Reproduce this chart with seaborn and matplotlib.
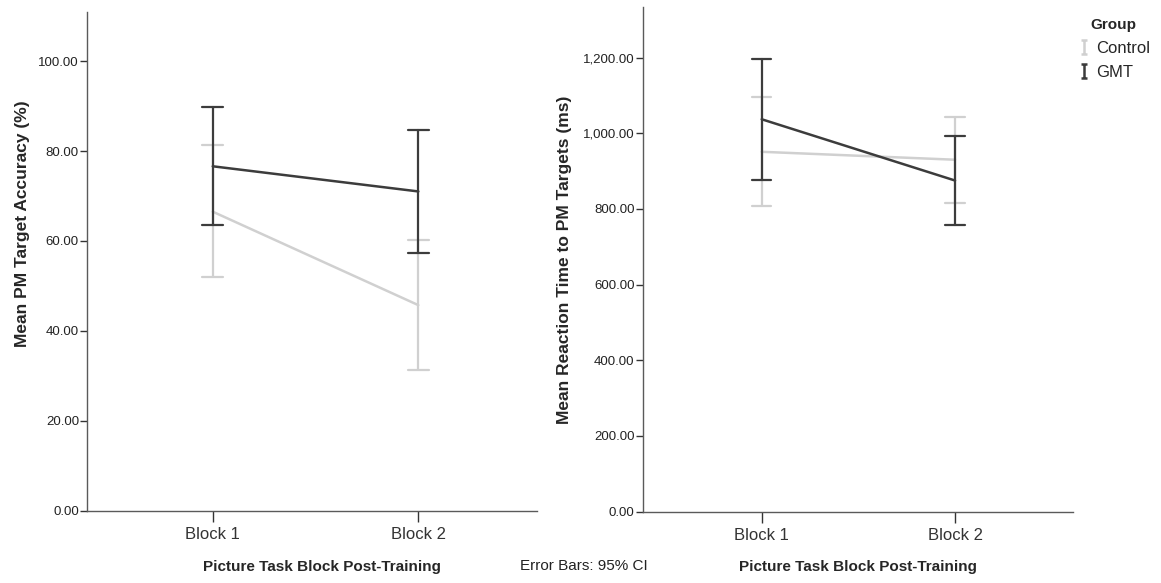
import numpy as np
import pandas as pd
import matplotlib
matplotlib.use("Agg")
import matplotlib.pyplot as plt
from matplotlib.path import Path
from matplotlib.lines import Line2D
from matplotlib.ticker import FuncFormatter
import seaborn as sns

# ---------------- data ----------------
blocks = ["Block 1", "Block 2"]
groups = ["Control", "GMT"]

acc_control_mean = [66.5, 45.7]
acc_control_low = [51.9, 31.2]
acc_control_high = [81.4, 60.3]
acc_gmt_mean = [76.6, 71.0]
acc_gmt_low = [63.5, 57.2]
acc_gmt_high = [89.9, 84.6]

rt_control_mean = [951.0, 930.0]
rt_control_low = [808.0, 816.0]
rt_control_high = [1095.0, 1044.0]
rt_gmt_mean = [1037.0, 875.0]
rt_gmt_low = [877.0, 758.0]
rt_gmt_high = [1195.0, 993.0]

acc_ticks = [0, 20, 40, 60, 80, 100]
rt_ticks = [0, 200, 400, 600, 800, 1000, 1200]


def build_frame(stats):
    rows = []
    for g, (lo, mid, hi) in stats.items():
        for i, b in enumerate(blocks):
            for v in (lo[i], mid[i], hi[i]):
                rows.append({"Block": b, "Group": g, "value": v})
    return pd.DataFrame(rows)


acc_df = build_frame({
    "Control": (acc_control_low, acc_control_mean, acc_control_high),
    "GMT": (acc_gmt_low, acc_gmt_mean, acc_gmt_high),
})
rt_df = build_frame({
    "Control": (rt_control_low, rt_control_mean, rt_control_high),
    "GMT": (rt_gmt_low, rt_gmt_mean, rt_gmt_high),
})

# ---------------- style ----------------
sns.set_style("ticks")
plt.rcParams["font.family"] = ["Liberation Sans", "DejaVu Sans"]

palette = {"Control": "#d0d0d0", "GMT": "#3c3c3c"}
axis_color = "#5a5a5a"

fig = plt.figure(figsize=(11.61, 5.83), dpi=100)
W, H = 1161, 583


def px_axes(x0, y0, x1, y1):
    return fig.add_axes([x0 / W, 1 - y1 / H, (x1 - x0) / W, (y1 - y0) / H])


ax1 = px_axes(87.3, 11.7, 537, 510.5)
ax2 = px_axes(643, 7.3, 1073, 511.5)


def draw(ax, df, ylim, ticks, xlim):
    sns.pointplot(
        data=df, x="Block", y="value", hue="Group",
        order=blocks, hue_order=groups, palette=palette,
        estimator="median", errorbar=lambda v: (v.min(), v.max()),
        markers=["", ""], linestyles=["-", "-"], capsize=0.1,
        linewidth=1.8, err_kws={"linewidth": 1.6},
        dodge=False, legend=False, ax=ax,
    )
    ax.set_xlim(*xlim)
    ax.set_ylim(*ylim)
    ax.set_yticks(ticks)
    ax.yaxis.set_major_formatter(FuncFormatter(lambda v, p: f"{v:,.2f}"))
    ax.set_xlabel("")
    ax.set_ylabel("")
    for s in ("top", "right"):
        ax.spines[s].set_visible(False)
    for s in ("left", "bottom"):
        ax.spines[s].set_color(axis_color)
        ax.spines[s].set_linewidth(1.0)
    ax.tick_params(axis="y", length=5, width=1.0, color="#333333",
                   labelsize=9.5, labelcolor="#222222", pad=1)
    ax.tick_params(axis="x", length=8, width=1.0, color="#333333",
                   labelsize=12, labelcolor="#333333", pad=4)
    ax.set_facecolor("white")


draw(ax1, acc_df, (0, 111), acc_ticks, (-0.61, 1.577))
draw(ax2, rt_df, (0, 1333), rt_ticks, (-0.614, 1.61))

# axis titles
fig.text(322 / W, 1 - 567 / H, "Picture Task Block Post-Training",
         ha="center", va="center", fontsize=11, fontweight="bold")
fig.text(857.5 / W, 1 - 567 / H, "Picture Task Block Post-Training",
         ha="center", va="center", fontsize=11, fontweight="bold")
fig.text(23 / W, 1 - 224 / H, "Mean PM Target Accuracy (%)",
         ha="center", va="center", rotation=90, fontsize=12.5,
         fontweight="bold")
fig.text(565 / W, 1 - 260 / H, "Mean Reaction Time to PM Targets (ms)",
         ha="center", va="center", rotation=90, fontsize=12.5,
         fontweight="bold")
fig.text(583.5 / W, 1 - 566 / H, "Error Bars: 95% CI",
         ha="center", va="center", fontsize=11, color="#222222")

# legend with I-beam symbols
ibeam = Path(
    [(-0.45, 1), (0.45, 1), (0, 1), (0, -1), (-0.45, -1), (0.45, -1)],
    [Path.MOVETO, Path.LINETO, Path.MOVETO, Path.LINETO, Path.MOVETO,
     Path.LINETO],
)
handles = [
    Line2D([], [], linestyle="none", marker=ibeam, markersize=10,
           markeredgewidth=1.8, markeredgecolor=palette[g],
           markerfacecolor="none")
    for g in groups
]
leg = fig.legend(handles, groups, loc="upper left",
                 bbox_to_anchor=(1062 / W, 1 - 3 / H), frameon=False,
                 title="Group", fontsize=12, handlelength=0.8,
                 handletextpad=0.35, labelspacing=0.55,
                 title_fontproperties={"weight": "bold", "size": 11})
leg._legend_box.align = "center"

fig.savefig("out.png", dpi=100, facecolor="white")
